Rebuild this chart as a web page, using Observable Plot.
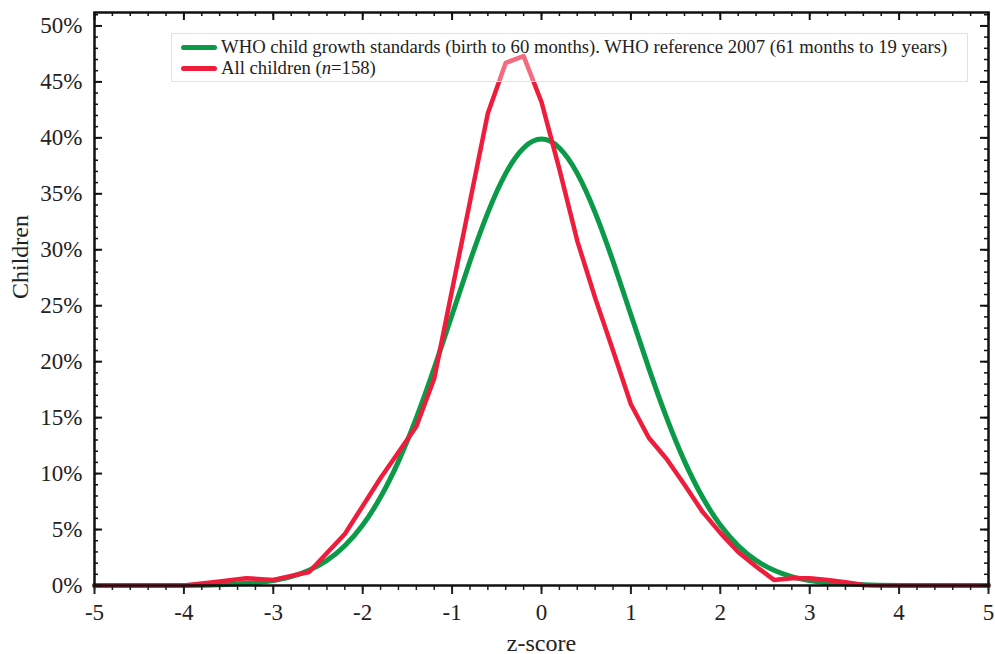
<!DOCTYPE html>
<html><head><meta charset="utf-8">
<script src="https://cdn.jsdelivr.net/npm/d3@7"></script>
<script src="https://cdn.jsdelivr.net/npm/@observablehq/plot@0.6"></script>
<style>
body{margin:0;background:#fff;}
#wrap{position:relative;width:995px;height:654px;}
#wrap svg text{font-family:"Liberation Serif",serif;}
#legend{position:absolute;left:171px;top:33px;width:795px;height:47px;border:1px solid #d4e6ec;background:rgba(255,255,255,0.35);font-family:"Liberation Serif",serif;font-size:18.7px;color:#222;}
.row{position:absolute;left:9px;display:flex;align-items:center;white-space:nowrap;}
.sw{display:inline-block;width:36px;height:5px;border-radius:3px;margin-right:4px;}
</style></head>
<body><div id="wrap"></div>
<script>
const seriesNames = ["WHO child growth standards (birth to 60 months). WHO reference 2007 (61 months to 19 years)", "All children (n=158)"];
const colors = ["#0a9a48", "#ee1d3b"];
// WHO reference curve (percent of children)
const whoZ = [-5,-4,-3.6,-3.2,-3,-2.8,-2.6,-2.4,-2.2,-2,-1.8,-1.6,-1.4,-1.2,-1,-0.8,-0.6,-0.4,-0.2,0,0.2,0.4,0.6,0.8,1,1.2,1.4,1.6,1.8,2,2.2,2.4,2.6,2.8,3,3.2,3.6,4,5];
const whoPct = [0,0.01,0.06,0.24,0.44,0.79,1.36,2.24,3.55,5.4,7.9,11.09,14.97,19.42,24.2,28.97,33.32,36.83,39.1,39.89,39.1,36.83,33.32,28.97,24.2,19.42,14.97,11.09,7.9,5.4,3.55,2.24,1.36,0.79,0.44,0.24,0.06,0.01,0];
// All children (n=158)
const allZ = [-5,-4,-3.6,-3.3,-3,-2.6,-2.2,-1.8,-1.4,-1.2,-1,-0.8,-0.6,-0.4,-0.2,0,0.2,0.4,0.6,0.8,1,1.2,1.4,1.6,1.8,2,2.2,2.4,2.6,2.8,3,3.2,3.4,3.6,4,5];
const allPct = [0,0,0.35,0.65,0.5,1.2,4.6,9.6,14.2,18.5,26.4,34.3,42.2,46.7,47.3,43.2,37.2,30.8,25.7,21.0,16.2,13.2,11.3,9.0,6.6,4.7,3.0,1.7,0.5,0.65,0.65,0.5,0.3,0.05,0,0];
const xMajor = [-5,-4,-3,-2,-1,0,1,2,3,4,5];
const xMinor = d3.range(-50,51,2).map(d=>d/10);
const yMajor = [0,5,10,15,20,25,30,35,40,45,50];
const yMinor = d3.range(0,52,1);

const who = whoZ.map((z,i)=>({z, p: whoPct[i]}));
const all = allZ.map((z,i)=>({z, p: allPct[i]}));

const W=995,H=654,mL=94,mR=7,mT=12,mB=69;
const pw=W-mL-mR, ph=H-mT-mB;
const font='Liberation Serif';

const chart = Plot.plot({
  width: W, height: H,
  marginLeft: mL, marginRight: mR, marginTop: mT, marginBottom: mB,
  style: {fontFamily: font, fontSize: "22px", color: "#222", background: "#fff"},
  x: {domain: [-5,5]},
  y: {domain: [0, 51.2]},
  marks: [
    Plot.line(who, {x:"z", y:"p", stroke: colors[0], strokeWidth: 5, curve: "natural"}),
    Plot.line(all, {x:"z", y:"p", stroke: colors[1], strokeWidth: 4.5, strokeLinejoin:"round"}),
    // left inward ticks
    Plot.tickY(yMajor, {y: d=>d, stroke:"#111", strokeWidth:2, insetRight: pw-8}),
    Plot.tickY(yMinor, {y: d=>d, stroke:"#111", strokeWidth:1.5, insetRight: pw-4}),
    // right inward ticks
    Plot.tickY(yMajor, {y: d=>d, stroke:"#111", strokeWidth:2, insetLeft: pw-8}),
    Plot.tickY(yMinor, {y: d=>d, stroke:"#111", strokeWidth:1.5, insetLeft: pw-4}),
    // top inward ticks
    Plot.tickX(xMajor, {x: d=>d, stroke:"#111", strokeWidth:2, insetBottom: ph-8}),
    Plot.tickX(xMinor, {x: d=>d, stroke:"#111", strokeWidth:1.5, insetBottom: ph-4}),
    Plot.axisX(xMajor, {tickSize: 9, strokeWidth: 2, tickPadding: 9, tickFormat: d=>String(d), fontSize: 23, fontFamily: font, label: null}),
    Plot.axisX(xMinor, {tickSize: 5, strokeWidth: 1.5, text: null, label: null}),
    Plot.axisY(yMajor, {tickSize: 0, tickPadding: 12, tickFormat: d=>d+"%", fontSize: 23, fontFamily: font, label: null}),
    Plot.frame({stroke:"#111", strokeWidth: 2.5}),
    Plot.text(["Children"], {frameAnchor:"left", dx: -74, rotate: -90, fontSize: 24, fontFamily: font, fill:"#222"}),
    Plot.text(["z-score"], {frameAnchor:"bottom", dy: 65, fontSize: 24, fontFamily: font, fill:"#222"})
  ]
});
const wrap = document.getElementById("wrap");
wrap.appendChild(chart);
const lg = document.createElement("div");
lg.id = "legend";
lg.innerHTML = `<div class="row" style="top:2px"><span class="sw" style="background:${colors[0]}"></span>${seriesNames[0]}</div>
<div class="row" style="top:23px"><span class="sw" style="background:${colors[1]}"></span>All children (<i>n</i>=158)</div>`;
wrap.appendChild(lg);
</script></body></html>
